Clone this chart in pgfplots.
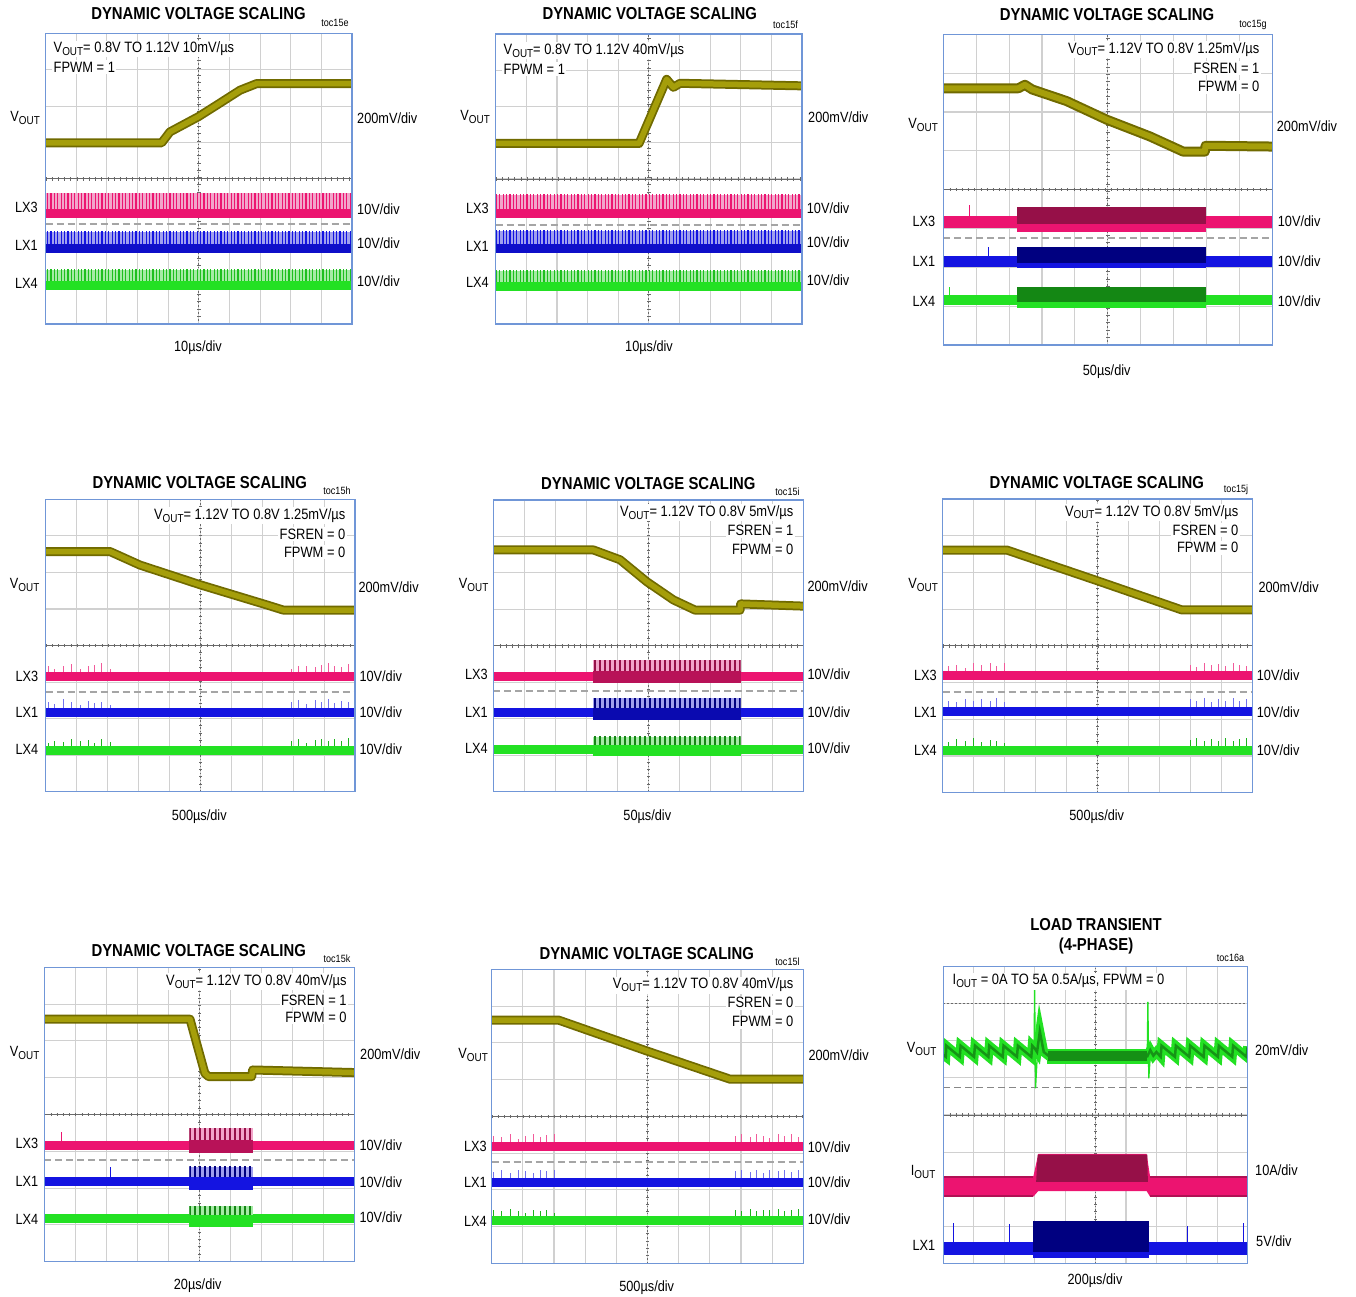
\documentclass[border=0pt]{standalone}
\usepackage{fontspec}
\setmainfont{Liberation Sans}[FakeStretch=0.86]
\usepackage{pgfplots}
\usepackage{pgfplotstable}
\pgfplotsset{compat=1.18}
\usetikzlibrary{patterns.meta}

\definecolor{boxblue}{RGB}{112,150,215}
\definecolor{gridc}{RGB}{208,208,208}
\definecolor{cc}{RGB}{105,105,105}
\definecolor{dashc}{RGB}{165,165,165}
\definecolor{olD}{RGB}{112,106,0}
\definecolor{ol}{RGB}{165,158,10}
\definecolor{pk}{RGB}{236,20,112}
\definecolor{pkD}{RGB}{150,16,72}
\definecolor{pkL}{RGB}{242,165,202}
\definecolor{bl}{RGB}{20,20,225}
\definecolor{blD}{RGB}{0,0,128}
\definecolor{blL}{RGB}{160,160,238}
\definecolor{gr}{RGB}{35,225,35}
\definecolor{grD}{RGB}{20,135,20}
\definecolor{grL}{RGB}{165,235,165}

\def\osclab{\fontsize{14.8}{16}\selectfont}
\def\oscann{\fontsize{15}{16}\selectfont}
\def\oscttl{\fontsize{17.3}{20}\selectfont\bfseries}
\def\osctoc{\fontsize{10.5}{12}\selectfont}
\def\oscsub#1{\raisebox{-0.35ex}{\fontsize{11.5}{12}\selectfont #1}}

\tikzset{
 dense/.style={draw=none, pattern={Lines[angle=90,distance=3.4pt,line width=1.2pt]}, pattern color=#1},
 burst/.style={draw=none, pattern={Lines[angle=90,distance=5pt,line width=2.2pt]}, pattern color=#1},
}
\pgfplotsset{
 scp/.style={scale only axis, anchor=south west, clip mode=individual,
  xmin=0, xmax=10, ymin=0, ymax=8,
  xtick={1,2,...,9}, ytick={1,2,...,7}, xticklabels={}, yticklabels={},
  major tick length=0pt, tick style={draw=none},
  grid=major, major grid style={draw=gridc, line width=1.1pt},
  axis line style={draw=none}},
 spk/.style={only marks, mark=none, error bars/.cd, y dir=plus, y explicit, error mark=none,
  error bar style={draw=#1, line width=1pt}},
}
\def\osccross{%
 \addplot[cc, line width=1pt] coordinates {(0,4) (10,4)};
 \addplot[cc, line width=3.5pt, dash pattern=on 0.8pt off 5.4pt] coordinates {(0,4) (10,4)};
 \addplot[cc, line width=1pt, dash pattern=on 1.5pt off 2pt] coordinates {(5,0) (5,8)};
 \addplot[cc, line width=3.5pt, dash pattern=on 0.8pt off 6.5pt] coordinates {(5,0) (5,8)};
}
\def\oscv#1{%
 \addplot[olD, line width=9pt, line join=round] coordinates {#1};
 \addplot[ol, line width=5.5pt, line join=round] coordinates {#1};
}
\def\oscdash#1{\addplot[dashc, line width=2pt, dash pattern=on 7pt off 4pt] coordinates {(0,#1) (10,#1)};}
\def\oscframe{\draw[boxblue, line width=1.4pt] (rel axis cs:0,0) rectangle (rel axis cs:1,1);}

\pgfplotstableread{
x y3 h3 y1 h1 y4 h4
0.09 3.15 0.30 2.16 0.30 1.14 0.20
0.30 3.15 0.22 2.16 0.25 1.14 0.25
0.57 3.15 0.28 2.16 0.38 1.14 0.22
0.84 3.15 0.35 2.16 0.30 1.14 0.30
1.11 3.15 0.20 2.16 0.22 1.14 0.24
1.38 3.15 0.30 2.16 0.33 1.14 0.28
1.59 3.15 0.33 2.16 0.28 1.14 0.20
1.81 3.15 0.36 2.16 0.30 1.14 0.30
2.08 3.15 0.20 2.16 0.20 1.14 0.22
7.95 3.15 0.20 2.16 0.30 1.14 0.25
8.17 3.15 0.28 2.16 0.35 1.14 0.30
8.44 3.15 0.30 2.16 0.25 1.14 0.20
8.71 3.15 0.25 2.16 0.34 1.14 0.28
8.92 3.15 0.33 2.16 0.30 1.14 0.30
9.14 3.15 0.36 2.16 0.38 1.14 0.24
9.35 3.15 0.30 2.16 0.27 1.14 0.30
9.57 3.15 0.26 2.16 0.33 1.14 0.26
9.78 3.15 0.34 2.16 0.30 1.14 0.32
}\spkH
\pgfplotstableread{
x y3 h3 y1 h1 y4 h4
0.18 3.19 0.25 2.21 0.30 1.16 0.22
0.45 3.19 0.30 2.21 0.26 1.16 0.30
0.72 3.19 0.22 2.21 0.35 1.16 0.25
0.99 3.19 0.33 2.21 0.28 1.16 0.34
1.26 3.19 0.28 2.21 0.33 1.16 0.22
1.53 3.19 0.34 2.21 0.30 1.16 0.28
1.74 3.19 0.25 2.21 0.36 1.16 0.24
2.01 3.19 0.33 2.21 0.25 1.16 0.20
7.99 3.19 0.30 2.21 0.34 1.16 0.28
8.20 3.19 0.24 2.21 0.30 1.16 0.32
8.47 3.19 0.34 2.21 0.36 1.16 0.24
8.69 3.19 0.28 2.21 0.26 1.16 0.30
8.90 3.19 0.32 2.21 0.35 1.16 0.26
9.12 3.19 0.26 2.21 0.30 1.16 0.32
9.39 3.19 0.34 2.21 0.36 1.16 0.25
9.60 3.19 0.30 2.21 0.28 1.16 0.30
9.82 3.19 0.25 2.21 0.34 1.16 0.33
}\spkJ
\pgfplotstableread{
x y3 h3 y1 h1 y4 h4
0.05 3.17 0.30 2.20 0.28 1.16 0.30
0.32 3.17 0.26 2.20 0.33 1.16 0.25
0.59 3.17 0.34 2.20 0.25 1.16 0.32
0.85 3.17 0.22 2.20 0.34 1.16 0.26
1.07 3.17 0.30 2.20 0.30 1.16 0.22
1.34 3.17 0.36 2.20 0.26 1.16 0.30
1.55 3.17 0.28 2.20 0.34 1.16 0.25
1.77 3.17 0.32 2.20 0.30 1.16 0.28
2.03 3.17 0.36 2.20 0.33 1.16 0.20
7.81 3.17 0.30 2.20 0.30 1.16 0.30
8.02 3.17 0.34 2.20 0.34 1.16 0.26
8.29 3.17 0.26 2.20 0.28 1.16 0.32
8.50 3.17 0.36 2.20 0.33 1.16 0.25
8.72 3.17 0.30 2.20 0.26 1.16 0.30
8.93 3.17 0.25 2.20 0.34 1.16 0.28
9.20 3.17 0.34 2.20 0.30 1.16 0.32
9.41 3.17 0.30 2.20 0.33 1.16 0.25
9.63 3.17 0.36 2.20 0.28 1.16 0.30
9.84 3.17 0.28 2.20 0.34 1.16 0.33
}\spkL
\pgfplotstableread{
x y
0 5.62
0.08 5.57
0.1 5.87
0.54 5.57
0.57 5.87
1.01 5.57
1.04 5.87
1.48 5.57
1.51 5.87
1.95 5.57
1.98 5.87
2.42 5.57
2.45 5.87
2.89 5.57
2.92 5.87
3.0 5.8
3.08 5.7
3.17 6.25
3.3 5.7
3.45 5.6
6.7 5.58
6.8 5.75
6.9 5.6
7.0 5.7
7.14 5.57
7.17 5.87
7.61 5.57
7.64 5.87
8.08 5.57
8.11 5.87
8.55 5.57
8.58 5.87
9.02 5.57
9.05 5.87
9.49 5.57
9.52 5.87
9.96 5.57
10 5.85
}\saw

\begin{document}
\begin{tikzpicture}
\useasboundingbox (0pt,0pt) rectangle (1356pt,-1297pt);

% ---------------- P1 toc15e
\begin{axis}[scp, at={(45.5pt,-324pt)}, width=306.5pt, height=290.5pt]
\osccross
\oscdash{2.75}
\oscv{(0,4.99) (3.79,4.99) (4.06,5.29) (4.99,5.71) (5.59,6.03) (6.35,6.44) (6.89,6.62) (10,6.62)}
\addplot[draw=none, fill=pkL] coordinates {(0,3.1) (10,3.1) (10,3.6) (0,3.6)} -- cycle;
\addplot[dense=pk] coordinates {(0,3.1) (10,3.1) (10,3.6) (0,3.6)} -- cycle;
\addplot[pk, line width=9pt] coordinates {(0,3.05) (10,3.05)};
\addplot[draw=none, fill=blL] coordinates {(0,2.14) (10,2.14) (10,2.54) (0,2.54)} -- cycle;
\addplot[dense=bl] coordinates {(0,2.14) (10,2.14) (10,2.54) (0,2.54)} -- cycle;
\addplot[bl!75!blD, line width=9pt] coordinates {(0,2.09) (10,2.09)};
\addplot[draw=none, fill=grL] coordinates {(0,1.1) (10,1.1) (10,1.49) (0,1.49)} -- cycle;
\addplot[dense=gr!85!black] coordinates {(0,1.1) (10,1.1) (10,1.49) (0,1.49)} -- cycle;
\addplot[gr, line width=9pt] coordinates {(0,1.05) (10,1.05)};
\oscframe
\end{axis}

% ---------------- P2 toc15f
\begin{axis}[scp, at={(495.7pt,-324pt)}, width=306.3pt, height=290pt]
\osccross
\oscdash{2.72}
\oscv{(0,4.98) (4.68,4.98) (5.58,6.75) (5.8,6.53) (6.02,6.64) (10,6.57)}
\addplot[draw=none, fill=pkL] coordinates {(0,3.1) (10,3.1) (10,3.56) (0,3.56)} -- cycle;
\addplot[dense=pk] coordinates {(0,3.1) (10,3.1) (10,3.56) (0,3.56)} -- cycle;
\addplot[pk, line width=9pt] coordinates {(0,3.05) (10,3.05)};
\addplot[draw=none, fill=blL] coordinates {(0,2.14) (10,2.14) (10,2.57) (0,2.57)} -- cycle;
\addplot[dense=bl] coordinates {(0,2.14) (10,2.14) (10,2.57) (0,2.57)} -- cycle;
\addplot[bl!75!blD, line width=9pt] coordinates {(0,2.09) (10,2.09)};
\addplot[draw=none, fill=grL] coordinates {(0,1.08) (10,1.08) (10,1.47) (0,1.47)} -- cycle;
\addplot[dense=gr!85!black] coordinates {(0,1.08) (10,1.08) (10,1.47) (0,1.47)} -- cycle;
\addplot[gr, line width=9pt] coordinates {(0,1.03) (10,1.03)};
\oscframe
\end{axis}

% ---------------- P3 toc15g
\begin{axis}[scp, at={(943.3pt,-345pt)}, width=329pt, height=310.7pt]
\osccross
\oscdash{2.75}
\addplot[olD, line width=10pt, line join=round] coordinates {(0,6.61) (2.28,6.61) (2.48,6.7) (2.7,6.58) (3.75,6.28) (4.97,5.8) (6.28,5.37) (7.29,4.98) (7.95,4.98) (7.97,5.13) (10,5.11)};
\addplot[ol, line width=6pt, line join=round] coordinates {(0,6.61) (2.28,6.61) (2.48,6.7) (2.7,6.58) (3.75,6.28) (4.97,5.8) (6.28,5.37) (7.29,4.98) (7.95,4.98) (7.97,5.13) (10,5.11)};
\addplot[spk=pk] coordinates {(0.81,3.16) +- (0,0.45)};
\addplot[spk=bl] coordinates {(1.37,2.15) +- (0,0.38)};
\addplot[spk=gr] coordinates {(0.2,1.16) +- (0,0.33)};
\addplot[draw=none, fill=pk] coordinates {(0,3.0) (10,3.0) (10,3.31) (0,3.31)} -- cycle;
\addplot[draw=none, fill=pk] coordinates {(2.25,2.92) (7.98,2.92) (7.98,3.15) (2.25,3.15)} -- cycle;
\addplot[draw=none, fill=pkD] coordinates {(2.25,3.12) (7.98,3.12) (7.98,3.56) (2.25,3.56)} -- cycle;
\addplot[draw=none, fill=bl] coordinates {(0,2.02) (10,2.02) (10,2.28) (0,2.28)} -- cycle;
\addplot[draw=none, fill=bl] coordinates {(2.25,1.98) (7.98,1.98) (7.98,2.12) (2.25,2.12)} -- cycle;
\addplot[draw=none, fill=blD] coordinates {(2.25,2.1) (7.98,2.1) (7.98,2.53) (2.25,2.53)} -- cycle;
\addplot[draw=none, fill=gr] coordinates {(0,1.03) (10,1.03) (10,1.29) (0,1.29)} -- cycle;
\addplot[draw=none, fill=gr] coordinates {(2.25,0.95) (7.98,0.95) (7.98,1.12) (2.25,1.12)} -- cycle;
\addplot[draw=none, fill=grD] coordinates {(2.25,1.1) (7.98,1.1) (7.98,1.49) (2.25,1.49)} -- cycle;
\oscframe
\end{axis}

% ---------------- P4 toc15h
\begin{axis}[scp, at={(45.7pt,-791.7pt)}, width=309.3pt, height=292.4pt]
\osccross
\oscdash{2.72}
\oscv{(0,6.57) (2.08,6.57) (3.05,6.2) (5,5.66) (7.15,5.11) (7.68,4.97) (10,4.97)}
\addplot[spk=pk!70] table[x=x, y=y3, y error=h3] \spkH;
\addplot[spk=bl!60] table[x=x, y=y1, y error=h1] \spkH;
\addplot[spk=gr!80!black] table[x=x, y=y4, y error=h4] \spkH;
\addplot[pk, line width=9pt] coordinates {(0,3.15) (10,3.15)};
\addplot[bl, line width=9pt] coordinates {(0,2.16) (10,2.16)};
\addplot[gr, line width=9pt] coordinates {(0,1.14) (10,1.14)};
\oscframe
\end{axis}

% ---------------- P5 toc15i
\begin{axis}[scp, at={(493.3pt,-791.7pt)}, width=310pt, height=291.7pt]
\osccross
\oscdash{2.76}
\oscv{(0,6.63) (3.23,6.63) (4.09,6.36) (4.95,5.76) (5.81,5.26) (6.51,4.98) (7.96,4.98) (7.98,5.15) (10,5.09)}
\addplot[pk, line width=9pt] coordinates {(0,3.15) (3.2,3.15)};
\addplot[pk, line width=9pt] coordinates {(7.98,3.15) (10,3.15)};
\addplot[draw=none, fill=pkL] coordinates {(3.2,3.25) (7.98,3.25) (7.98,3.61) (3.2,3.61)} -- cycle;
\addplot[burst=pkD] coordinates {(3.2,3.25) (7.98,3.25) (7.98,3.61) (3.2,3.61)} -- cycle;
\addplot[draw=none, fill=pkD!60!pk] coordinates {(3.2,2.97) (7.98,2.97) (7.98,3.3) (3.2,3.3)} -- cycle;
\addplot[bl, line width=9pt] coordinates {(0,2.17) (3.2,2.17)};
\addplot[bl, line width=9pt] coordinates {(7.98,2.17) (10,2.17)};
\addplot[draw=none, fill=blL] coordinates {(3.2,2.26) (7.98,2.26) (7.98,2.56) (3.2,2.56)} -- cycle;
\addplot[burst=blD] coordinates {(3.2,2.26) (7.98,2.26) (7.98,2.56) (3.2,2.56)} -- cycle;
\addplot[draw=none, fill=blD!50!bl] coordinates {(3.2,1.97) (7.98,1.97) (7.98,2.3) (3.2,2.3)} -- cycle;
\addplot[gr, line width=9pt] coordinates {(0,1.16) (3.2,1.16)};
\addplot[gr, line width=9pt] coordinates {(7.98,1.16) (10,1.16)};
\addplot[draw=none, fill=grL] coordinates {(3.2,1.24) (7.98,1.24) (7.98,1.51) (3.2,1.51)} -- cycle;
\addplot[burst=grD] coordinates {(3.2,1.24) (7.98,1.24) (7.98,1.51) (3.2,1.51)} -- cycle;
\addplot[draw=none, fill=gr] coordinates {(3.2,0.98) (7.98,0.98) (7.98,1.27) (3.2,1.27)} -- cycle;
\oscframe
\end{axis}

% ---------------- P6 toc15j
\begin{axis}[scp, at={(942.7pt,-792.7pt)}, width=309.6pt, height=293.7pt]
\osccross
\oscdash{2.75}
\oscv{(0,6.61) (2.07,6.61) (4.97,5.78) (7.72,4.98) (10,4.98)}
\addplot[spk=pk!70] table[x=x, y=y3, y error=h3] \spkJ;
\addplot[spk=bl!60] table[x=x, y=y1, y error=h1] \spkJ;
\addplot[spk=gr!80!black] table[x=x, y=y4, y error=h4] \spkJ;
\addplot[pk, line width=9pt] coordinates {(0,3.19) (10,3.19)};
\addplot[bl, line width=9pt] coordinates {(0,2.21) (10,2.21)};
\addplot[gr, line width=9pt] coordinates {(0,1.16) (10,1.16)};
\oscframe
\end{axis}

% ---------------- P7 toc15k
\begin{axis}[scp, at={(44.3pt,-1261.7pt)}, width=310pt, height=294.4pt]
\osccross
\oscdash{2.76}
\oscv{(0,6.59) (4.7,6.59) (5.18,5.12) (5.3,5.03) (6.69,5.03) (6.72,5.21) (10,5.14)}
\addplot[spk=pk] coordinates {(0.56,3.17) +- (0,0.36)};
\addplot[spk=bl] coordinates {(2.12,2.17) +- (0,0.41)};
\addplot[pk, line width=9pt] coordinates {(0,3.17) (4.68,3.17)};
\addplot[pk, line width=9pt] coordinates {(6.74,3.17) (10,3.17)};
\addplot[draw=none, fill=pkL] coordinates {(4.68,3.25) (6.74,3.25) (6.74,3.62) (4.68,3.62)} -- cycle;
\addplot[burst=pkD] coordinates {(4.68,3.25) (6.74,3.25) (6.74,3.62) (4.68,3.62)} -- cycle;
\addplot[draw=none, fill=pkD!60!pk] coordinates {(4.68,2.95) (6.74,2.95) (6.74,3.3) (4.68,3.3)} -- cycle;
\addplot[bl, line width=9pt] coordinates {(0,2.17) (4.68,2.17)};
\addplot[bl, line width=9pt] coordinates {(6.74,2.17) (10,2.17)};
\addplot[draw=none, fill=blL] coordinates {(4.68,2.26) (6.74,2.26) (6.74,2.58) (4.68,2.58)} -- cycle;
\addplot[burst=blD] coordinates {(4.68,2.26) (6.74,2.26) (6.74,2.58) (4.68,2.58)} -- cycle;
\addplot[draw=none, fill=bl] coordinates {(4.68,1.95) (6.74,1.95) (6.74,2.3) (4.68,2.3)} -- cycle;
\addplot[gr, line width=9pt] coordinates {(0,1.18) (4.68,1.18)};
\addplot[gr, line width=9pt] coordinates {(6.74,1.18) (10,1.18)};
\addplot[draw=none, fill=grL] coordinates {(4.68,1.25) (6.74,1.25) (6.74,1.51) (4.68,1.51)} -- cycle;
\addplot[burst=grD] coordinates {(4.68,1.25) (6.74,1.25) (6.74,1.51) (4.68,1.51)} -- cycle;
\addplot[draw=none, fill=gr] coordinates {(4.68,0.95) (6.74,0.95) (6.74,1.28) (4.68,1.28)} -- cycle;
\oscframe
\end{axis}

% ---------------- P8 toc15l
\begin{axis}[scp, at={(491.7pt,-1263.3pt)}, width=311.6pt, height=294pt]
\osccross
\oscdash{2.75}
\oscv{(0,6.62) (2.14,6.62) (4.97,5.78) (7.65,5.01) (10,5.01)}
\addplot[spk=pk!70] table[x=x, y=y3, y error=h3] \spkL;
\addplot[spk=bl!60] table[x=x, y=y1, y error=h1] \spkL;
\addplot[spk=gr!80!black] table[x=x, y=y4, y error=h4] \spkL;
\addplot[pk, line width=9pt] coordinates {(0,3.17) (10,3.17)};
\addplot[bl, line width=9pt] coordinates {(0,2.2) (10,2.2)};
\addplot[gr, line width=9pt] coordinates {(0,1.16) (10,1.16)};
\oscframe
\end{axis}

% ---------------- P9 toc16a
\begin{axis}[scp, at={(943.3pt,-1263.3pt)}, width=304.4pt, height=296.6pt]
\osccross
\addplot[cc, line width=1.2pt, dash pattern=on 1.5pt off 2.5pt] coordinates {(0,7) (10,7)};
\addplot[cc!80, line width=1.5pt, dash pattern=on 7pt off 4pt] coordinates {(0,4.74) (10,4.74)};
\addplot[gr, line width=1.3pt] coordinates {(2.98,5.7) (3.0,7.4) (3.03,4.72) (3.08,5.5)};
\addplot[gr, line width=1.3pt] coordinates {(6.7,5.6) (6.72,7.05) (6.75,4.99) (6.8,5.6)};
\addplot[gr, line width=9pt] table {\saw};
\addplot[gr, line width=15pt] coordinates {(3.4,5.58) (6.72,5.58)};
\addplot[grD!85!gr, line width=2.5pt] table {\saw};
\addplot[grD!90!gr, line width=10pt] coordinates {(3.45,5.58) (6.7,5.58)};
\addplot[draw=none, fill=pk] coordinates {(0,1.8) (2.96,1.8) (3.12,1.95) (6.68,1.95) (6.79,1.8) (10,1.8) (10,2.35) (6.79,2.35) (6.68,2.95) (3.12,2.95) (2.96,2.35) (0,2.35)} -- cycle;
\addplot[pkD!70!pk, line width=1.5pt] coordinates {(0,2.33) (2.96,2.33)};
\addplot[pkD!70!pk, line width=1.5pt] coordinates {(6.79,2.33) (10,2.33)};
\addplot[pkD!70!pk, line width=1.5pt] coordinates {(0,1.82) (2.96,1.82)};
\addplot[pkD!70!pk, line width=1.5pt] coordinates {(6.79,1.82) (10,1.82)};
\addplot[draw=none, fill=pkD] coordinates {(3.05,2.2) (6.72,2.2) (6.7,2.93) (3.1,2.93)} -- cycle;
\addplot[spk=bl] coordinates {(0.33,0.5) +- (0,0.58) (2.17,0.5) +- (0,0.55) (8.02,0.5) +- (0,0.5) (9.86,0.5) +- (0,0.6)};
\addplot[draw=none, fill=bl] coordinates {(0,0.22) (10,0.22) (10,0.58) (0,0.58)} -- cycle;
\addplot[draw=none, fill=bl] coordinates {(2.96,0.13) (6.77,0.13) (6.77,0.32) (2.96,0.32)} -- cycle;
\addplot[draw=none, fill=blD] coordinates {(2.96,0.3) (6.77,0.3) (6.77,1.14) (2.96,1.14)} -- cycle;
\oscframe
\end{axis}

% ---------------- Texts
\tikzset{lb/.style={font=\osclab, inner sep=0pt}, an/.style={font=\oscann, inner sep=1.5pt, fill=white}}
% P1
\node[font=\oscttl] at (198.5pt,-14pt) {DYNAMIC VOLTAGE SCALING};
\node[font=\osctoc] at (335pt,-23pt) {toc15e};
\node[an, anchor=west] at (52pt,-49pt) {V\oscsub{OUT}= 0.8V TO 1.12V 10mV/µs};
\node[an, anchor=west] at (52pt,-67pt) {FPWM = 1};
\node[lb, anchor=east] at (40pt,-118pt) {V\oscsub{OUT}};
\node[lb, anchor=west] at (357pt,-118pt) {200mV/div};
\node[lb, anchor=east] at (38pt,-207pt) {LX3};
\node[lb, anchor=west] at (357pt,-209pt) {10V/div};
\node[lb, anchor=east] at (38pt,-245pt) {LX1};
\node[lb, anchor=west] at (357pt,-243pt) {10V/div};
\node[lb, anchor=east] at (38pt,-283pt) {LX4};
\node[lb, anchor=west] at (357pt,-281pt) {10V/div};
\node[lb] at (198pt,-348pt) {10µs/div};
% P2
\node[font=\oscttl] at (649.7pt,-14pt) {DYNAMIC VOLTAGE SCALING};
\node[font=\osctoc] at (785.5pt,-25pt) {toc15f};
\node[an, anchor=west] at (502pt,-50.7pt) {V\oscsub{OUT}= 0.8V TO 1.12V 40mV/µs};
\node[an, anchor=west] at (502pt,-69pt) {FPWM = 1};
\node[lb, anchor=east] at (490pt,-117pt) {V\oscsub{OUT}};
\node[lb, anchor=west] at (808pt,-117pt) {200mV/div};
\node[lb, anchor=east] at (489pt,-208pt) {LX3};
\node[lb, anchor=west] at (806.7pt,-208pt) {10V/div};
\node[lb, anchor=east] at (489pt,-246.7pt) {LX1};
\node[lb, anchor=west] at (806.7pt,-242.7pt) {10V/div};
\node[lb, anchor=east] at (489pt,-282.7pt) {LX4};
\node[lb, anchor=west] at (806.7pt,-280.7pt) {10V/div};
\node[lb] at (649pt,-348pt) {10µs/div};
% P3
\node[font=\oscttl] at (1107pt,-15pt) {DYNAMIC VOLTAGE SCALING};
\node[font=\osctoc] at (1253pt,-25pt) {toc15g};
\node[an, anchor=east] at (1261pt,-49.3pt) {V\oscsub{OUT}= 1.12V TO 0.8V 1.25mV/µs};
\node[an, anchor=east] at (1261pt,-68.3pt) {FSREN = 1};
\node[an, anchor=east] at (1261pt,-86.7pt) {FPWM = 0};
\node[lb, anchor=east] at (938pt,-125pt) {V\oscsub{OUT}};
\node[lb, anchor=west] at (1276.7pt,-126.7pt) {200mV/div};
\node[lb, anchor=east] at (935.5pt,-221.7pt) {LX3};
\node[lb, anchor=west] at (1277.7pt,-221.7pt) {10V/div};
\node[lb, anchor=east] at (935.5pt,-261.7pt) {LX1};
\node[lb, anchor=west] at (1277.7pt,-261.7pt) {10V/div};
\node[lb, anchor=east] at (935.5pt,-301pt) {LX4};
\node[lb, anchor=west] at (1277.7pt,-301pt) {10V/div};
\node[lb] at (1106.7pt,-371.7pt) {50µs/div};
% P4
\node[font=\oscttl] at (199.7pt,-482.3pt) {DYNAMIC VOLTAGE SCALING};
\node[font=\osctoc] at (337pt,-491pt) {toc15h};
\node[an, anchor=east] at (347pt,-515.7pt) {V\oscsub{OUT}= 1.12V TO 0.8V 1.25mV/µs};
\node[an, anchor=east] at (347pt,-534pt) {FSREN = 0};
\node[an, anchor=east] at (347pt,-552.3pt) {FPWM = 0};
\node[lb, anchor=east] at (39.5pt,-585pt) {V\oscsub{OUT}};
\node[lb, anchor=west] at (358.3pt,-587.3pt) {200mV/div};
\node[lb, anchor=east] at (38.5pt,-676.7pt) {LX3};
\node[lb, anchor=west] at (359.3pt,-676.7pt) {10V/div};
\node[lb, anchor=east] at (38.5pt,-712.3pt) {LX1};
\node[lb, anchor=west] at (359.3pt,-712.3pt) {10V/div};
\node[lb, anchor=east] at (38.5pt,-749pt) {LX4};
\node[lb, anchor=west] at (359.3pt,-749pt) {10V/div};
\node[lb] at (199.3pt,-816.7pt) {500µs/div};
% P5
\node[font=\oscttl] at (648.3pt,-483.3pt) {DYNAMIC VOLTAGE SCALING};
\node[font=\osctoc] at (787.5pt,-491.7pt) {toc15i};
\node[an, anchor=east] at (795pt,-512.7pt) {V\oscsub{OUT}= 1.12V TO 0.8V 5mV/µs};
\node[an, anchor=east] at (795pt,-530.7pt) {FSREN = 1};
\node[an, anchor=east] at (795pt,-549pt) {FPWM = 0};
\node[lb, anchor=east] at (488.5pt,-585pt) {V\oscsub{OUT}};
\node[lb, anchor=west] at (807.3pt,-586.7pt) {200mV/div};
\node[lb, anchor=east] at (488pt,-674pt) {LX3};
\node[lb, anchor=west] at (807.3pt,-674pt) {10V/div};
\node[lb, anchor=east] at (488pt,-712.7pt) {LX1};
\node[lb, anchor=west] at (807.3pt,-712.7pt) {10V/div};
\node[lb, anchor=east] at (488pt,-748.3pt) {LX4};
\node[lb, anchor=west] at (807.3pt,-748.3pt) {10V/div};
\node[lb] at (647.3pt,-816.7pt) {50µs/div};
% P6
\node[font=\oscttl] at (1096.7pt,-482.3pt) {DYNAMIC VOLTAGE SCALING};
\node[font=\osctoc] at (1236pt,-490pt) {toc15j};
\node[an, anchor=east] at (1240pt,-512.3pt) {V\oscsub{OUT}= 1.12V TO 0.8V 5mV/µs};
\node[an, anchor=east] at (1240pt,-530pt) {FSREN = 0};
\node[an, anchor=east] at (1240pt,-547.7pt) {FPWM = 0};
\node[lb, anchor=east] at (938pt,-585pt) {V\oscsub{OUT}};
\node[lb, anchor=west] at (1258.3pt,-587.3pt) {200mV/div};
\node[lb, anchor=east] at (937pt,-675pt) {LX3};
\node[lb, anchor=west] at (1256.7pt,-675pt) {10V/div};
\node[lb, anchor=east] at (937pt,-712.7pt) {LX1};
\node[lb, anchor=west] at (1256.7pt,-712.7pt) {10V/div};
\node[lb, anchor=east] at (937pt,-750pt) {LX4};
\node[lb, anchor=west] at (1256.7pt,-750pt) {10V/div};
\node[lb] at (1096.7pt,-816.7pt) {500µs/div};
% P7
\node[font=\oscttl] at (198.7pt,-950.7pt) {DYNAMIC VOLTAGE SCALING};
\node[font=\osctoc] at (337pt,-958.3pt) {toc15k};
\node[an, anchor=east] at (348.3pt,-981.7pt) {V\oscsub{OUT}= 1.12V TO 0.8V 40mV/µs};
\node[an, anchor=east] at (348.3pt,-1000pt) {FSREN = 1};
\node[an, anchor=east] at (348.3pt,-1017.3pt) {FPWM = 0};
\node[lb, anchor=east] at (39.5pt,-1053.3pt) {V\oscsub{OUT}};
\node[lb, anchor=west] at (360pt,-1054pt) {200mV/div};
\node[lb, anchor=east] at (38.5pt,-1143.3pt) {LX3};
\node[lb, anchor=west] at (359.3pt,-1145pt) {10V/div};
\node[lb, anchor=east] at (38.5pt,-1181.7pt) {LX1};
\node[lb, anchor=west] at (359.3pt,-1181.7pt) {10V/div};
\node[lb, anchor=east] at (38.5pt,-1219.3pt) {LX4};
\node[lb, anchor=west] at (359.3pt,-1217.3pt) {10V/div};
\node[lb] at (197.7pt,-1286pt) {20µs/div};
% P8
\node[font=\oscttl] at (646.7pt,-953.3pt) {DYNAMIC VOLTAGE SCALING};
\node[font=\osctoc] at (787.5pt,-961.7pt) {toc15l};
\node[an, anchor=east] at (795pt,-985pt) {V\oscsub{OUT}= 1.12V TO 0.8V 40mV/µs};
\node[an, anchor=east] at (795pt,-1002.7pt) {FSREN = 0};
\node[an, anchor=east] at (795pt,-1021.7pt) {FPWM = 0};
\node[lb, anchor=east] at (488pt,-1055pt) {V\oscsub{OUT}};
\node[lb, anchor=west] at (808.3pt,-1055pt) {200mV/div};
\node[lb, anchor=east] at (487pt,-1146.7pt) {LX3};
\node[lb, anchor=west] at (807.7pt,-1146.7pt) {10V/div};
\node[lb, anchor=east] at (487pt,-1182.3pt) {LX1};
\node[lb, anchor=west] at (807.7pt,-1182.3pt) {10V/div};
\node[lb, anchor=east] at (487pt,-1221pt) {LX4};
\node[lb, anchor=west] at (807.7pt,-1219pt) {10V/div};
\node[lb] at (646.7pt,-1287.7pt) {500µs/div};
% P9
\node[font=\oscttl] at (1096pt,-925pt) {LOAD TRANSIENT};
\node[font=\oscttl] at (1096pt,-945.7pt) {(4-PHASE)};
\node[font=\osctoc] at (1230.5pt,-958.3pt) {toc16a};
\node[an, anchor=west] at (951pt,-981pt) {I\oscsub{OUT} = 0A TO 5A 0.5A/µs, FPWM = 0};
\node[lb, anchor=east] at (936.5pt,-1049pt) {V\oscsub{OUT}};
\node[lb, anchor=west] at (1255pt,-1050pt) {20mV/div};
\node[lb, anchor=east] at (935.5pt,-1171.7pt) {I\oscsub{OUT}};
\node[lb, anchor=west] at (1255pt,-1170pt) {10A/div};
\node[lb, anchor=east] at (935.5pt,-1245.7pt) {LX1};
\node[lb, anchor=west] at (1256pt,-1241pt) {5V/div};
\node[lb] at (1095pt,-1281pt) {200µs/div};
\end{tikzpicture}
\end{document}
